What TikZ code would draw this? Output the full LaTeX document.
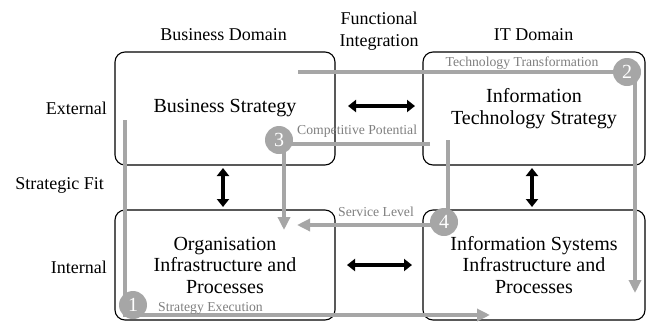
\documentclass[tikz,border=0pt]{standalone}
\usepackage{fontspec}
\setmainfont{Liberation Serif}
\usetikzlibrary{arrows.meta}
\definecolor{pathgray}{HTML}{A6A6A6}
\definecolor{labelgray}{HTML}{7F7F7F}

\begin{document}
\begin{tikzpicture}[x=1pt,y=-1pt,
  box/.style={draw=black, line width=1.1pt, rounded corners=10pt,
    align=center, inner sep=0pt, font=\fontsize{20}{21.5}\selectfont},
  axislabel/.style={font=\fontsize{18}{22}\selectfont, inner sep=0pt, align=center},
  flowlabel/.style={font=\fontsize{13.7}{15}\selectfont, text=labelgray, inner sep=0pt},
  flow/.style={draw=pathgray, line width=4pt, -{Triangle[length=13pt,width=12pt]}},
  num/.style={circle, fill=pathgray, minimum size=28pt, inner sep=0pt,
    text=white, font=\fontsize{20}{20}\selectfont},
  fit/.style={line width=3.8pt,
    {Triangle[length=8pt,width=12pt]}-{Triangle[length=8pt,width=12pt]}}
]
\useasboundingbox (0,0) rectangle (651,322);

% the four quadrants
\node[box, minimum width=220pt, minimum height=113pt] (bs)  at (225,108.5) {Business Strategy};
\node[box, minimum width=222pt, minimum height=113pt] (its) at (534,108.5) {Information\\Technology Strategy};
\node[box, minimum width=220pt, minimum height=110pt] (oip) at (225,265) {Organisation\\Infrastructure and\\Processes};
\node[box, minimum width=222pt, minimum height=110pt] (isp) at (534,265) {Information Systems\\Infrastructure and\\Processes};

% axis headings
\node[axislabel] (bd)  at (223.5,35) {Business Domain};
\node[axislabel] (itd) at (533.5,35) {IT Domain};
\node[axislabel] (fi)  at (379,31) {Functional\\Integration};
\node[axislabel, anchor=east] (ext) at (107,108) {External};
\node[axislabel, anchor=east] (sf)  at (104,185) {Strategic Fit};
\node[axislabel, anchor=east] (int) at (107,267) {Internal};

% strategic fit and functional integration arrows
\coordinate (h1a) at (348,106);  \coordinate (h1b) at (415,106);
\coordinate (h2a) at (347,265);  \coordinate (h2b) at (412,265);
\coordinate (v1a) at (223,168);  \coordinate (v1b) at (223,207);
\coordinate (v2a) at (532,168);  \coordinate (v2b) at (532,207);
\draw[fit] (h1a) -- (h1b);
\draw[fit] (h2a) -- (h2b);
\draw[fit] (v1a) -- (v1b);
\draw[fit] (v2a) -- (v2b);

% alignment perspectives
\coordinate (p1s) at (125,120);  \coordinate (p1e) at (490,315);
\coordinate (p2s) at (298,72);   \coordinate (p2e) at (635,293);
\coordinate (p3s) at (430,144);  \coordinate (p3e) at (284,230);
\coordinate (p4s) at (448,140);  \coordinate (p4e) at (297,225);
\draw[flow] (p1s) |- (p1e);
\draw[flow] (p2s) -| (p2e);
\draw[flow] (p3s) -| (p3e);
\draw[flow] (p4s) |- (p4e);

\node[num] (n1) at (133,305) {1};
\node[num] (n2) at (627,72)  {2};
\node[num] (n3) at (279,140) {3};
\node[num] (n4) at (444,222) {4};

\node[flowlabel, anchor=base west] (l1) at (158,311) {Strategy Execution};
\node[flowlabel, anchor=base] (l2) at (522,66) {Technology Transformation};
\node[flowlabel, anchor=base west] (l3) at (297,134) {Competitive Potential};
\node[flowlabel, anchor=base] (l4) at (376,216) {Service Level};
\end{tikzpicture}
\end{document}
